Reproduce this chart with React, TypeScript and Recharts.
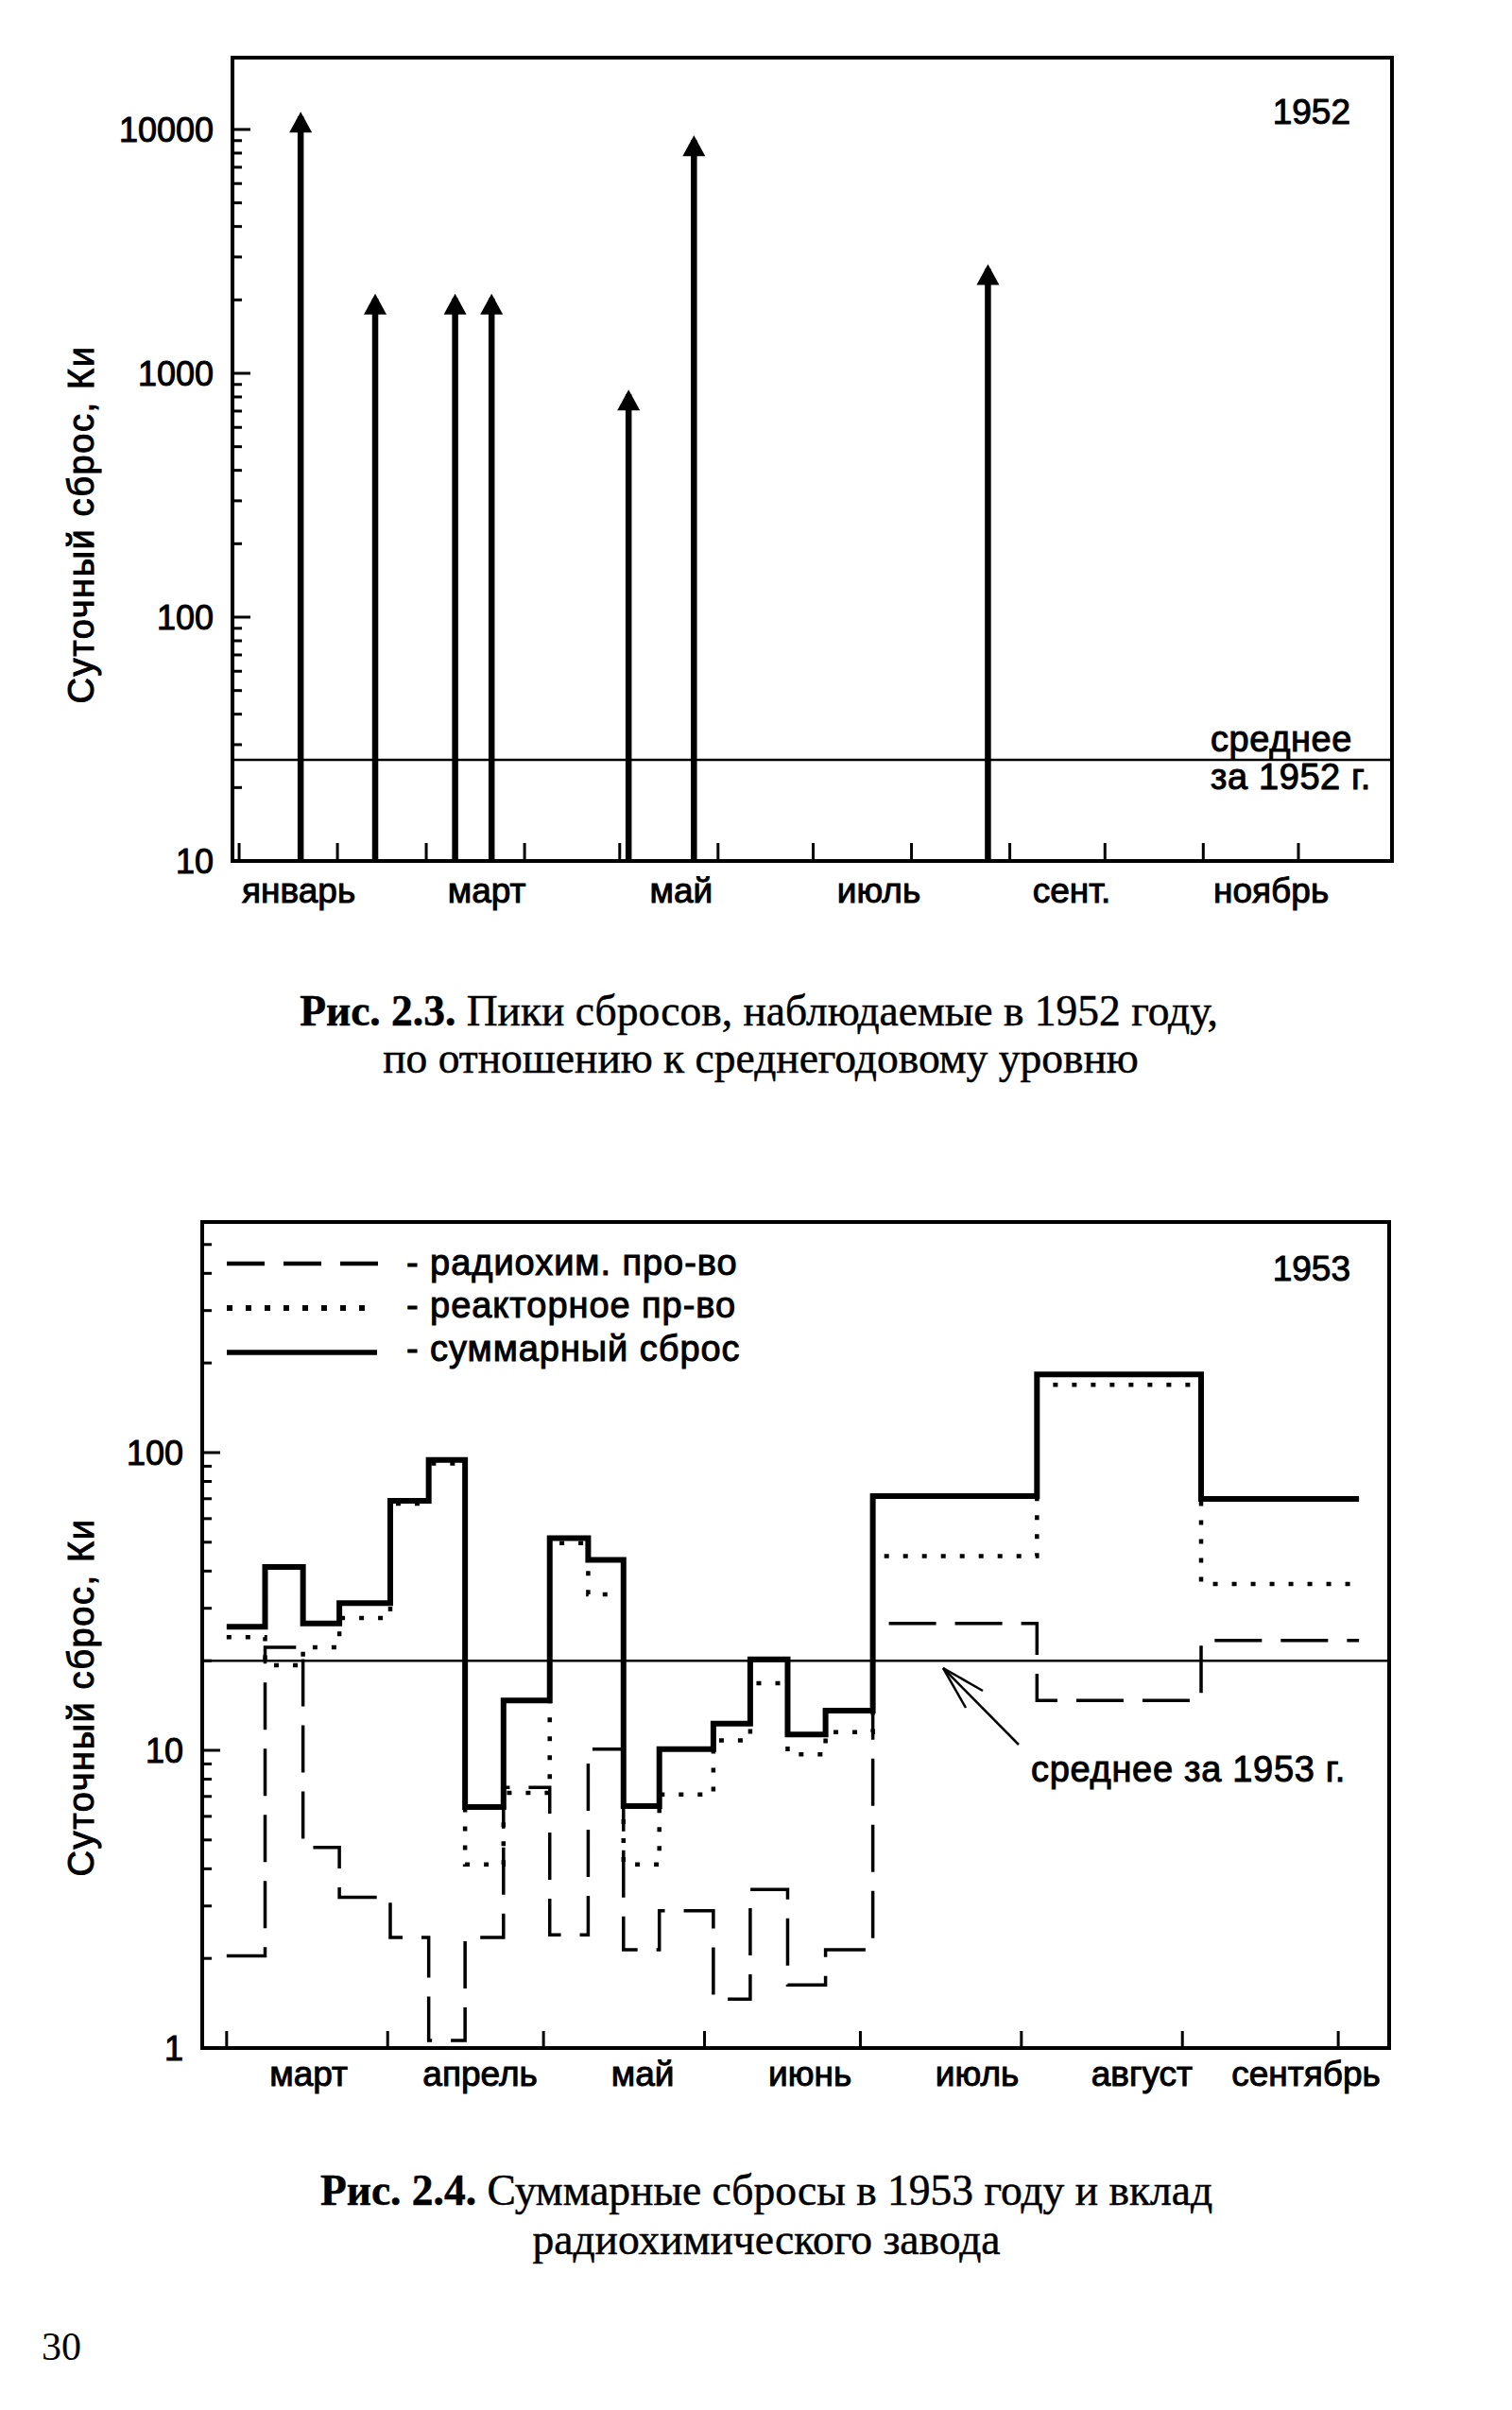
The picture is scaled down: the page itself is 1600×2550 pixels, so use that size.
import React from 'react';
import {
  ComposedChart,
  Line,
  XAxis,
  YAxis,
  ReferenceLine,
  ReferenceArea,
  Scatter,
} from 'recharts';

// ---------- Fig. 2.3 (1952) ----------
const spikeDays1952 = [19.4, 42.9, 68.1, 79.6, 122.8, 143.4, 236.1];
const spikeValues1952 = [11300, 2030, 2030, 2030, 820, 9050, 2680];
const mean1952 = 26;
const monthStarts1952 = [0, 31, 59, 90, 120, 151, 181, 212, 243, 273, 304, 334];
const monthLabels1952 = ['январь', 'март', 'май', 'июль', 'сент.', 'ноябрь'];
const monthLabelDays1952 = [18.8, 78.1, 139.4, 201.7, 262.5, 325.4];
const yMajor1952 = [10, 100, 1000, 10000];
const yMinor1952 = [20, 30, 40, 50, 60, 70, 80, 90, 200, 300, 400, 500, 600, 700, 800, 900, 2000, 3000, 4000, 5000, 6000, 7000, 8000, 9000];

// ---------- Fig. 2.4 (1953) ----------
const stepDays1953 = [59, 66.4, 73.7, 80.7, 90.5, 97.9, 104.9, 112.3, 121.2, 128.6, 135.4, 142.3, 152.7, 159.8, 167, 174.3, 183.4, 215, 246.6, 277];
const total1953 = [26, 41.3, 26.7, 31.2, 68.9, 94.4, 6.45, 14.7, 51.6, 43.6, 6.5, 10.1, 12.3, 20.2, 11.3, 13.6, 71.4, 183, 69.9, 69.9];
const reactor1953 = [24, 19.3, 22.2, 27.8, 67.4, 92, 4.14, 7.2, 49.7, 33.4, 4.14, 7.1, 10.8, 16.8, 9.7, 11.5, 44.9, 169, 36.2, 36.2];
const radiochem1953 = [2.04, 22.2, 4.72, 3.21, 2.35, 1.06, 2.35, 7.5, 2.4, 10.1, 2.14, 2.89, 1.46, 3.41, 1.63, 2.14, 26.7, 14.7, 23.4, 23.4];
const mean1953 = 20;
const monthStarts1953 = [59, 90, 120, 151, 181, 212, 243, 273];
const monthLabels1953 = ['март', 'апрель', 'май', 'июнь', 'июль', 'август', 'сентябрь'];
const monthLabelDays1953 = [74.8, 107.8, 139.1, 171.3, 203.5, 235.2, 266.8];
const yMajor1953 = [1, 10, 100];
const yMinor1953 = [2, 3, 4, 5, 6, 7, 8, 9, 20, 30, 40, 50, 60, 70, 80, 90, 200, 300, 400, 500];

const SANS = '"Liberation Sans", Arial, Helvetica, sans-serif';
const SERIF = '"Liberation Serif", "Times New Roman", serif';
const FS = 37;
const TXT = { fontFamily: SANS, fontSize: FS, fill: '#000', stroke: '#000', strokeWidth: 1 } as const;

const spikes1952 = spikeDays1952.map((d, i) => ({ d, v: spikeValues1952[i] }));
const steps1953 = stepDays1953.map((d, i) => ({
  d,
  total: total1953[i],
  reactor: reactor1953[i],
  radio: radiochem1953[i],
}));

const makeXTick = (labelDays: number[], labels: string[], len: number, dyLabel: number) =>
  (props: any) => {
    const { x, y, payload } = props;
    const i = labelDays.indexOf(payload.value);
    if (i >= 0) {
      return (
        <text {...TXT} x={x} y={y + dyLabel} textAnchor="middle">
          {labels[i]}
        </text>
      );
    }
    return <line x1={x} x2={x} y1={y} y2={y - len} stroke="#000" strokeWidth={3} />;
  };

const makeYTick = (majors: number[]) => (props: any) => {
  const { x, y, payload } = props;
  const major = majors.indexOf(payload.value) >= 0;
  return (
    <g>
      <line x1={x} x2={x + (major ? 19 : 10)} y1={y} y2={y} stroke="#000" strokeWidth={3} />
      {major && (
        <text {...TXT} fontSize={36} x={x - 20} y={y + 13} textAnchor="end">
          {payload.value}
        </text>
      )}
    </g>
  );
};

const Arrowhead = (props: any) => {
  const { cx, cy } = props;
  return <polygon points={`${cx},${cy - 5} ${cx - 12},${cy + 17} ${cx + 12},${cy + 17}`} fill="#000" />;
};

const X52: [number, number] = [-2.1, 363.5];
const Y52: [number, number] = [10, 19700];
const X53: [number, number] = [54.3, 282.8];
const Y53: [number, number] = [1, 595];

function Chart1952() {
  return (
    <ComposedChart width={1600} height={1000} data={spikes1952} margin={{ top: 61, right: 127, bottom: 0, left: 0 }}>
      <XAxis
        dataKey="d"
        type="number"
        domain={X52}
        allowDataOverflow
        ticks={[...monthStarts1952, ...monthLabelDays1952]}
        interval={0}
        tickLine={false}
        tickSize={0}
        tickMargin={0}
        height={89}
        axisLine={{ stroke: '#000', strokeWidth: 4 }}
        tick={makeXTick(monthLabelDays1952, monthLabels1952, 19, 44)}
      />
      <YAxis
        type="number"
        scale="log"
        domain={Y52}
        allowDataOverflow
        ticks={[...yMajor1952, ...yMinor1952]}
        interval={0}
        tickLine={false}
        tickSize={0}
        tickMargin={0}
        width={246}
        axisLine={{ stroke: '#000', strokeWidth: 4 }}
        tick={makeYTick(yMajor1952)}
      />
      <ReferenceArea x1={X52[0]} x2={X52[1]} y1={Y52[0]} y2={Y52[1]} fill="none" stroke="#000" strokeWidth={4} fillOpacity={0} />
      <ReferenceLine y={mean1952} stroke="#000" strokeWidth={2.5} />
      {spikes1952.map((s, i) => (
        <ReferenceLine
          key={i}
          segment={[{ x: s.d, y: Y52[0] }, { x: s.d, y: s.v }]}
          stroke="#000"
          strokeWidth={6.5}
        />
      ))}
      <Scatter dataKey="v" shape={Arrowhead} isAnimationActive={false} />
    </ComposedChart>
  );
}

function Chart1953() {
  return (
    <ComposedChart width={1600} height={1100} data={steps1953} margin={{ top: 93, right: 130, bottom: 0, left: 0 }}>
      <XAxis
        dataKey="d"
        type="number"
        domain={X53}
        allowDataOverflow
        ticks={[...monthStarts1953, ...monthLabelDays1953]}
        interval={0}
        tickLine={false}
        tickSize={0}
        tickMargin={0}
        height={133}
        axisLine={{ stroke: '#000', strokeWidth: 4 }}
        tick={makeXTick(monthLabelDays1953, monthLabels1953, 18, 40)}
      />
      <YAxis
        type="number"
        scale="log"
        domain={Y53}
        allowDataOverflow
        ticks={[...yMajor1953, ...yMinor1953]}
        interval={0}
        tickLine={false}
        tickSize={0}
        tickMargin={0}
        width={214}
        axisLine={{ stroke: '#000', strokeWidth: 4 }}
        tick={makeYTick(yMajor1953)}
      />
      <ReferenceArea x1={X53[0]} x2={X53[1]} y1={Y53[0]} y2={Y53[1]} fill="none" stroke="#000" strokeWidth={4} fillOpacity={0} />
      <ReferenceLine y={mean1953} stroke="#000" strokeWidth={2.5} />
      <Line dataKey="radio" type="stepAfter" stroke="#000" strokeWidth={3.5} strokeDasharray="50 20" dot={false} activeDot={false} isAnimationActive={false} />
      <Line dataKey="reactor" type="stepAfter" stroke="#000" strokeWidth={4.5} strokeDasharray="5 15" dot={false} activeDot={false} isAnimationActive={false} />
      <Line dataKey="total" type="stepAfter" stroke="#000" strokeWidth={6} dot={false} activeDot={false} isAnimationActive={false} />
    </ComposedChart>
  );
}

function Overlay() {
  const t = TXT;
  const sp = { ...TXT, fontSize: 38, letterSpacing: 1.6 } as const;
  const s = { fontFamily: SERIF, fontSize: 45.5, fill: '#000', stroke: '#000', strokeWidth: 0.5 } as const;
  return (
    <svg width={1600} height={2550} style={{ position: 'absolute', left: 0, top: 0, pointerEvents: 'none' }}>
      {/* Fig 2.3 texts */}
      <text {...sp} transform="translate(99,555) rotate(-90)" textAnchor="middle">Суточный сброс, Ки</text>
      <text {...t} x={1429} y={131} textAnchor="end">1952</text>
      <text {...sp} letterSpacing={0.6} x={1281} y={795}>среднее</text>
      <text {...sp} letterSpacing={0.6} x={1281} y={835}>за 1952 г.</text>
      <text {...s} x={803} y={1085} textAnchor="middle">
        <tspan fontWeight="bold">Рис. 2.3.</tspan> Пики сбросов, наблюдаемые в 1952 году,
      </text>
      <text {...s} x={805} y={1135} textAnchor="middle">по отношению к среднегодовому уровню</text>

      {/* Fig 2.4 texts */}
      <text {...sp} transform="translate(99,1796) rotate(-90)" textAnchor="middle">Суточный сброс, Ки</text>
      <text {...t} x={1429} y={1355} textAnchor="end">1953</text>
      <line x1={240} x2={400} y1={1337} y2={1337} stroke="#000" strokeWidth={4.5} strokeDasharray="40 20" />
      <line x1={240} x2={400} y1={1384} y2={1384} stroke="#000" strokeWidth={6} strokeDasharray="6 14" />
      <line x1={240} x2={399} y1={1431} y2={1431} stroke="#000" strokeWidth={5.5} />
      <text {...sp} letterSpacing={0.95} x={430} y={1349}>- радиохим. про-во</text>
      <text {...sp} letterSpacing={0.95} x={430} y={1394}>- реакторное пр-во</text>
      <text {...sp} letterSpacing={0.95} x={430} y={1440}>- суммарный сброс</text>
      <text {...sp} letterSpacing={0.7} x={1091} y={1885}>среднее за 1953 г.</text>
      <g stroke="#000" strokeWidth={2.5} fill="none">
        <line x1={1078} y1={1846} x2={998} y2={1765} />
        <line x1={998} y1={1765} x2={1040} y2={1789} />
        <line x1={998} y1={1765} x2={1022} y2={1807} />
      </g>
      <text {...s} x={811} y={2333} textAnchor="middle">
        <tspan fontWeight="bold">Рис. 2.4.</tspan> Суммарные сбросы в 1953 году и вклад
      </text>
      <text {...s} x={811} y={2385} textAnchor="middle">радиохимического завода</text>
      <text fontFamily={SERIF} fontSize={42} fill="#000" x={44} y={2497}>30</text>
    </svg>
  );
}

export default function App() {
  return (
    <div style={{ position: 'absolute', left: 0, top: 0, width: 1600, height: 2550, background: '#fff' }}>
      <div style={{ position: 'absolute', left: 0, top: 0 }}>
        <Chart1952 />
      </div>
      <div style={{ position: 'absolute', left: 0, top: 1200 }}>
        <Chart1953 />
      </div>
      <Overlay />
    </div>
  );
}
